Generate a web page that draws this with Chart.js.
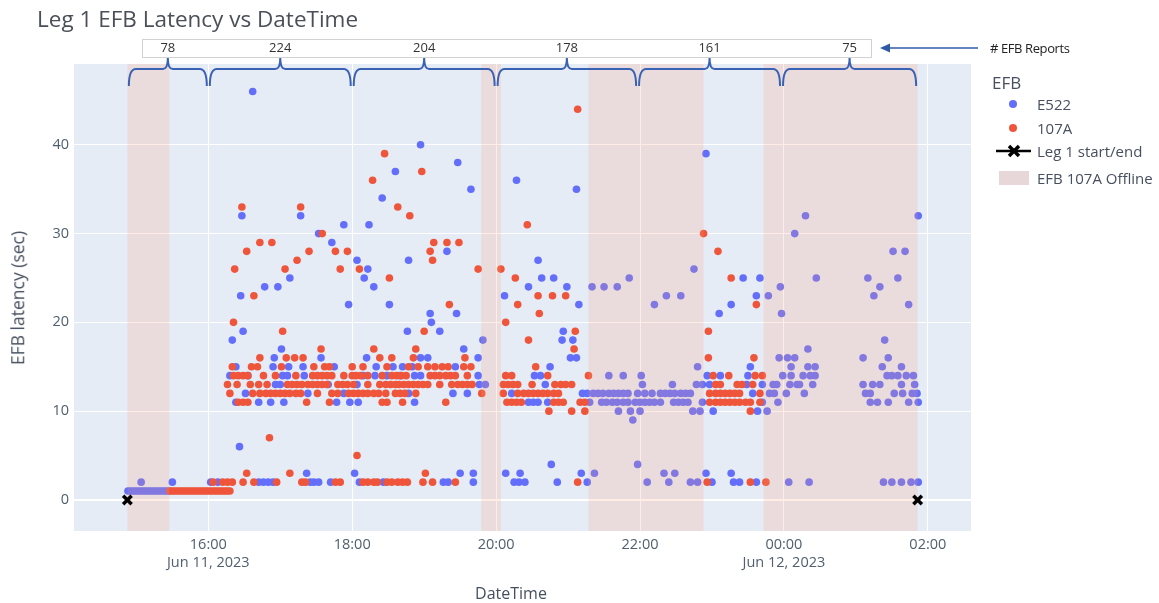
<!DOCTYPE html>
<html>
<head>
<meta charset="utf-8">
<script src="https://cdn.jsdelivr.net/npm/chart.js@4.4.1/dist/chart.umd.min.js"></script>
<style>
  body { margin: 0; background: #fff; font-family: 'Open Sans', sans-serif; }
  #wrap { position: relative; width: 1159px; height: 603px; overflow: hidden; }
  #efbchart { position: absolute; left: 0; top: 0; }
  .txt { position: absolute; white-space: nowrap; color: #47505f; line-height: 1; }
  .dot { position: absolute; width: 8px; height: 8px; border-radius: 50%; }
</style>
</head>
<body>
<div id="wrap">
  <canvas id="efbchart" width="1159" height="603"></canvas>

  <div class="txt" style="left:37px; top:19px; font-size:22.5px; color:#4a4f58; transform:translateY(-50%);">Leg 1 EFB Latency vs DateTime</div>
  <div class="txt" style="left:18px; top:298px; font-size:17.5px; transform:translate(-50%,-50%) rotate(-90deg);">EFB latency (sec)</div>
  <div class="txt" style="left:511px; top:593px; font-size:16px; transform:translate(-50%,-50%);">DateTime</div>
  <div class="txt" style="left:990px; top:48px; font-size:13px; color:#222; transform:translateY(-50%); letter-spacing:-0.4px;"># EFB Reports</div>

  <!-- legend -->
  <div class="txt" style="left:992px; top:82px; font-size:17px; transform:translateY(-50%);">EFB</div>
  <div class="dot" style="left:1009px; top:100px; background:#636efa;"></div>
  <div class="txt" style="left:1037px; top:104px; font-size:15px; transform:translateY(-50%);">E522</div>
  <div class="dot" style="left:1009px; top:124px; background:#ef553b;"></div>
  <div class="txt" style="left:1037px; top:128px; font-size:15px; transform:translateY(-50%);">107A</div>
  <svg style="position:absolute; left:995px; top:143px;" width="38" height="16">
    <line x1="1" y1="8" x2="36" y2="8" stroke="#000" stroke-width="2.5"/>
    <path d="M14 3 L24 13 M24 3 L14 13" stroke="#000" stroke-width="3.5"/>
  </svg>
  <div class="txt" style="left:1037px; top:151px; font-size:15px; transform:translateY(-50%);">Leg 1 start/end</div>
  <div style="position:absolute; left:999px; top:171px; width:30px; height:14px; background:#e7d7d9;"></div>
  <div class="txt" style="left:1037px; top:178px; font-size:15px; transform:translateY(-50%);">EFB 107A Offline</div>
</div>

<script>
// times are minutes after 00:00 on Jun 11, 2023 (so 1440 = 00:00 Jun 12)
const xTickValues = [960, 1080, 1200, 1320, 1440, 1560];
const xTickLabels = [['16:00', 'Jun 11, 2023'], '18:00', '20:00', '22:00', ['00:00', 'Jun 12, 2023'], '02:00'];
const yTickValues = [0, 10, 20, 30, 40];

// [time, latency sec]
const e522Reports = [
    [893,1],[895,1],[897,1],[899,1],[901,1],[903,1],[905,1],[907,1],[909,1],[911,1],[913,1],[915,1],[917,1],[919,1],[921,1],[923,1],[925,1],[927,1],
    [904,2],[930,2],[962,2],[968,2],[1002,2],[1006,2],[1010,2],[1014,2],[1045,2],[1048,2],[1052,2],[1062,2],[1086,2],[1106,2],[1156,2],[1160,2],[1181,2],
    [1215,2],[1219,2],[1224,2],[1251,2],[1276,2],[1326,2],[1344,2],[1362,2],[1368,2],[1380,2],[1398,2],[1403,2],[1417,2],[1444,2],[1461,2],
    [1523,2],[1530,2],[1538,2],[1546,2],[1552,2],
    [1042,3],[1082,3],[1170,3],[1181,3],[1208,3],[1220,3],[1271,3],[1282,3],[1340,3],[1349,3],[1375,3],[1396,3],
    [1246,4],[1318,4],[986,6],[1314,9],
    [1302,10],[1312,10],[1320,10],[1364,10],[1370,10],[1381,10],[1418,10],[1426,10],
    [983,11],[1002,11],[1012,11],[1023,11],[1067,11],[1078,11],[1085,11],[1132,11],[1227,11],[1231,11],[1235,11],[1243,11],[1278,11],[1288,11],
    [1292,11],[1297,11],[1301,11],[1306,11],[1310,11],[1316,11],[1320,11],[1324,11],[1328,11],[1332,11],[1337,11],[1348,11],[1352,11],[1356,11],
    [1360,11],[1372,11],[1422,11],[1435,11],[1512,11],[1518,11],[1527,11],[1544,11],[1552,11],
    [991,12],[1043,12],[1073,12],[1127,12],[1164,12],[1176,12],[1213,12],[1272,12],[1276,12],[1281,12],[1285,12],[1289,12],[1294,12],[1298,12],
    [1302,12],[1306,12],[1310,12],[1318,12],[1324,12],[1330,12],[1337,12],[1341,12],[1345,12],[1349,12],[1354,12],[1358,12],[1362,12],[1414,12],
    [1428,12],[1432,12],[1442,12],[1457,12],[1508,12],[1512,12],[1532,12],[1539,12],[1547,12],[1551,12],
    [1016,13],[1020,13],[1060,13],[1084,13],[1186,13],[1191,13],[1241,13],[1322,13],[1347,13],[1367,13],[1372,13],[1378,13],[1409,13],[1422,13],
    [1431,13],[1434,13],[1445,13],[1451,13],[1453,13],[1464,13],[1506,13],[1514,13],[1520,13],[1538,13],[1549,13],
    [978,14],[993,14],[1022,14],[1026,14],[1040,14],[1089,14],[1099,14],[1109,14],[1120,14],[1132,14],[1137,14],[1185,14],[1232,14],[1237,14],
    [1294,14],[1306,14],[1321,14],[1376,14],[1387,14],[1410,14],[1439,14],[1446,14],[1456,14],[1462,14],[1466,14],[1526,14],[1530,14],[1535,14],
    [1542,14],[1548,14],
    [983,15],[1014,15],[1027,15],[1039,15],[1065,15],[1100,15],[1114,15],[1122,15],[1130,15],[1166,15],[1245,15],[1368,15],[1412,15],[1446,15],
    [1460,15],[1466,15],[1522,15],[1538,15],
    [1015,16],[1054,16],[1092,16],[1137,16],[1143,16],[1185,16],[1262,16],[1267,16],[1436,16],[1443,16],[1449,16],[1506,16],[1527,16],
    [1021,17],[1173,17],[1460,17],
    [980,18],[1189,18],[1255,18],[1264,18],[1524,18],
    [1146,20],[1145,21],[1167,21],[1386,21],[1438,21],[989,19],[1126,19],[1153,19],[1256,19],
    [1077,22],[1111,22],[1269,22],[1332,22],[1396,22],[1544,22],
    [987,23],[1207,23],[1342,23],[1354,23],[1417,23],[1427,23],[1515,23],
    [1007,24],[1018,24],[1098,24],[1227,24],[1259,24],[1280,24],[1290,24],[1301,24],[1437,24],[1520,24],
    [1028,25],[1090,25],[1238,25],[1248,25],[1311,25],[1406,25],[1420,25],[1467,25],[1510,25],[1535,25],
    [1093,26],[1365,26],[1084,27],[1127,27],[1235,27],[1159,28],[1531,28],[1541,28],[1063,29],
    [1052,30],[1449,30],[1073,31],[1094,31],[988,32],[1037,32],[1458,32],[1552,32],
    [1105,34],[1179,35],[1267,35],[1217,36],[1116,37],[1168,38],[1375,39],[1137,40],[997,46]
];

const a107Reports = [
    [928,1],[930,1],[932,1],[934,1],[936,1],[938,1],[940,1],[942,1],[944,1],[946,1],[948,1],[950,1],[952,1],[954,1],[956,1],[958,1],[960,1],
    [962,1],[964,1],[966,1],[968,1],[970,1],[972,1],[974,1],[976,1],[978,1],
    [964,2],[972,2],[976,2],[980,2],[989,2],[998,2],[1017,2],[1038,2],[1041,2],[1066,2],[1070,2],[1089,2],[1093,2],[1098,2],[1101,2],[1109,2],
    [1113,2],[1118,2],[1122,2],[1126,2],[1139,2],[1147,2],[1166,2],[1268,2],[1376,2],[1412,2],[1425,2],
    [992,3],[1028,3],[1141,3],[1084,5],[1011,7],
    [1244,10],[1263,10],[1274,10],[1412,10],
    [985,11],[989,11],[993,11],[1042,11],[1061,11],[1105,11],[1109,11],[1122,11],[1158,11],[1209,11],[1213,11],[1217,11],[1221,11],[1248,11],
    [1252,11],[1256,11],[1270,11],[1274,11],[1378,11],[1383,11],[1387,11],[1391,11],[1395,11],[1399,11],[1403,11],[1408,11],[1412,11],[1420,11],
    [978,12],[997,12],[1003,12],[1008,12],[1012,12],[1016,12],[1020,12],[1024,12],[1028,12],[1033,12],[1037,12],[1051,12],[1063,12],[1068,12],
    [1077,12],[1081,12],[1085,12],[1089,12],[1093,12],[1098,12],[1102,12],[1108,12],[1116,12],[1120,12],[1124,12],[1133,12],[1188,12],[1206,12],
    [1218,12],[1223,12],[1227,12],[1231,12],[1235,12],[1239,12],[1243,12],[1248,12],[1252,12],[1378,12],[1383,12],[1387,12],[1391,12],[1395,12],
    [1399,12],[1403,12],[1420,12],
    [976,13],[984,13],[995,13],[1002,13],[1009,13],[1026,13],[1030,13],[1034,13],[1038,13],[1043,13],[1047,13],[1051,13],[1055,13],[1059,13],
    [1068,13],[1072,13],[1076,13],[1081,13],[1093,13],[1103,13],[1108,13],[1112,13],[1116,13],[1119,13],[1123,13],[1127,13],[1131,13],[1135,13],
    [1139,13],[1143,13],[1153,13],[1163,13],[1168,13],[1172,13],[1176,13],[1180,13],[1206,13],[1210,13],[1214,13],[1218,13],[1230,13],[1249,13],
    [1254,13],[1258,13],[1263,13],[1383,13],[1387,13],[1401,13],[1405,13],[1414,13],
    [981,14],[985,14],[989,14],[993,14],[1006,14],[1016,14],[1033,14],[1047,14],[1051,14],[1055,14],[1059,14],[1063,14],[1073,14],[1080,14],
    [1083,14],[1087,14],[1093,14],[1105,14],[1113,14],[1117,14],[1121,14],[1125,14],[1145,14],[1149,14],[1153,14],[1158,14],[1162,14],[1166,14],
    [1176,14],[1208,14],[1213,14],[1243,14],[1277,14],[1381,14],[1394,14],[1416,14],[1422,14],
    [980,15],[996,15],[1001,15],[1021,15],[1048,15],[1057,15],[1061,15],[1080,15],[1089,15],[1109,15],[1127,15],[1135,15],[1143,15],[1149,15],
    [1155,15],[1160,15],[1173,15],[1179,15],[1233,15],
    [1003,16],[1025,16],[1032,16],[1039,16],[1103,16],[1113,16],[1131,16],[1174,16],[1377,16],[1415,16],
    [1054,17],[1098,17],[1133,17],[1265,17],[1227,18],
    [1022,19],[1140,19],[1266,19],[1377,19],[981,20],[1208,20],[1236,21],
    [1161,22],[1218,22],[1417,22],[998,23],[1235,23],[1247,23],[1258,23],
    [1111,25],[1216,25],[1396,25],[982,26],[1024,26],[1070,26],[1086,26],[1185,26],[1204,26],[1034,27],[1147,27],
    [992,28],[1044,28],[1066,28],[1076,28],[1145,28],[1385,28],[1003,29],[1013,29],[1148,29],[1159,29],[1169,29],
    [1055,30],[1373,30],[1226,31],[1128,32],[988,33],[1037,33],[1118,33],[1097,36],[1138,37],[1107,39],[1268,44]
];

const legEnds = [[892.5, 0], [1551.5, 0]];

// EFB 107A offline windows
const offlineStart = [892.5, 1187.5, 1277, 1423];
const offlineEnd = [927.5, 1204, 1373, 1551.5];

// brace groups with # EFB reports in each
const braceEdges = [892.5, 960, 1080, 1200, 1318, 1438, 1551.5];
const reportCounts = [78, 224, 204, 178, 161, 75];

const toXY = pts => pts.map(p => ({ x: p[0], y: p[1] }));

const plotBg = {
    id: 'plotBg',
    beforeDraw(chart) {
        const a = chart.chartArea, ctx = chart.ctx;
        ctx.save();
        ctx.fillStyle = '#e5ecf6';
        ctx.fillRect(a.left, a.top, a.right - a.left, a.bottom - a.top);
        ctx.restore();
    }
};

// offline shading sits over the markers, like the plotly shapes layer
const offlineShade = {
    id: 'offlineShade',
    afterDatasetDraw(chart, args) {
        if (chart.data.datasets[args.index].label !== '107A') return;
        const ctx = chart.ctx, a = chart.chartArea, x = chart.scales.x;
        ctx.save();
        ctx.fillStyle = 'rgba(255, 160, 122, 0.2)';
        offlineStart.forEach((s, i) => {
            const x0 = x.getPixelForValue(s), x1 = x.getPixelForValue(offlineEnd[i]);
            ctx.fillRect(x0, a.top, x1 - x0, a.bottom - a.top);
        });
        ctx.restore();
    }
};

const braces = {
    id: 'braces',
    afterDraw(chart) {
        const ctx = chart.ctx, x = chart.scales.x;
        const mids = reportCounts.map((c, i) => (braceEdges[i] + braceEdges[i + 1]) / 2);
        const boxL = Math.round(x.getPixelForValue(mids[0]) - 26);
        const boxR = Math.round(x.getPixelForValue(mids[mids.length - 1]) + 21);
        ctx.save();
        ctx.fillStyle = '#fff';
        ctx.fillRect(boxL, 39, boxR - boxL, 18);
        ctx.strokeStyle = '#d2d2d2';
        ctx.lineWidth = 1;
        ctx.strokeRect(boxL + 0.5, 39.5, boxR - boxL, 18);

        ctx.strokeStyle = '#3a62b4';
        ctx.lineWidth = 2;
        reportCounts.forEach((c, i) => {
            const xa = x.getPixelForValue(braceEdges[i]) + 1.5;
            const xb = x.getPixelForValue(braceEdges[i + 1]) - 1.5;
            const xm = x.getPixelForValue(mids[i]);
            ctx.beginPath();
            ctx.moveTo(xa, 86);
            ctx.quadraticCurveTo(xa, 69, xa + 7, 69);
            ctx.lineTo(xm - 5, 69);
            ctx.quadraticCurveTo(xm, 69, xm, 58);
            ctx.quadraticCurveTo(xm, 69, xm + 5, 69);
            ctx.lineTo(xb - 7, 69);
            ctx.quadraticCurveTo(xb, 69, xb, 86);
            ctx.stroke();
        });

        ctx.fillStyle = '#333';
        ctx.font = '13px "Open Sans"';
        ctx.textAlign = 'center';
        ctx.textBaseline = 'middle';
        reportCounts.forEach((c, i) => ctx.fillText(String(c), x.getPixelForValue(mids[i]), 48));

        // arrow pointing at the box
        ctx.strokeStyle = '#2f5aa8';
        ctx.fillStyle = '#2f5aa8';
        ctx.lineWidth = 1.5;
        ctx.beginPath();
        ctx.moveTo(boxR + 107, 48);
        ctx.lineTo(boxR + 16, 48);
        ctx.stroke();
        ctx.beginPath();
        ctx.moveTo(boxR + 9, 48);
        ctx.lineTo(boxR + 19, 43.5);
        ctx.lineTo(boxR + 19, 52.5);
        ctx.closePath();
        ctx.fill();
        ctx.restore();
    }
};

const tickFont = { family: 'Open Sans', size: 14.5, lineHeight: 1.3 };

new Chart(document.getElementById('efbchart'), {
    type: 'scatter',
    data: {
        datasets: [
            {
                label: 'E522',
                data: toXY(e522Reports),
                backgroundColor: '#636efa',
                borderWidth: 0,
                pointRadius: 3.8,
                order: 3
            },
            {
                label: '107A',
                data: toXY(a107Reports),
                backgroundColor: '#ef553b',
                borderWidth: 0,
                pointRadius: 3.8,
                order: 2
            },
            {
                label: 'Leg 1 start/end',
                data: toXY(legEnds),
                pointStyle: 'crossRot',
                borderColor: '#000',
                backgroundColor: '#000',
                borderWidth: 3.5,
                pointRadius: 6,
                order: 1
            }
        ]
    },
    options: {
        responsive: false,
        animation: false,
        devicePixelRatio: 1,
        layout: { padding: { left: 0, right: 188, top: 64, bottom: 0 } },
        plugins: {
            legend: { display: false },
            tooltip: { enabled: false }
        },
        scales: {
            x: {
                type: 'linear',
                min: 848,
                max: 1596,
                afterFit: s => { s.height = 72; },
                afterBuildTicks: s => { s.ticks = xTickValues.map(v => ({ value: v })); },
                ticks: {
                    callback: v => xTickLabels[xTickValues.indexOf(v)],
                    color: '#506070',
                    font: tickFont,
                    padding: 4,
                    maxRotation: 0,
                    autoSkip: false
                },
                grid: { color: '#ffffff', lineWidth: 1, drawTicks: false },
                border: { display: false }
            },
            y: {
                min: -3.5,
                max: 49.1,
                afterFit: s => { s.width = 74; },
                afterBuildTicks: s => { s.ticks = yTickValues.map(v => ({ value: v })); },
                ticks: {
                    color: '#506070',
                    font: tickFont,
                    padding: 5
                },
                grid: {
                    color: '#ffffff',
                    lineWidth: ctx => (ctx.tick && ctx.tick.value === 0 ? 2 : 1),
                    drawTicks: false
                },
                border: { display: false }
            }
        }
    },
    plugins: [plotBg, offlineShade, braces]
});
</script>
</body>
</html>
